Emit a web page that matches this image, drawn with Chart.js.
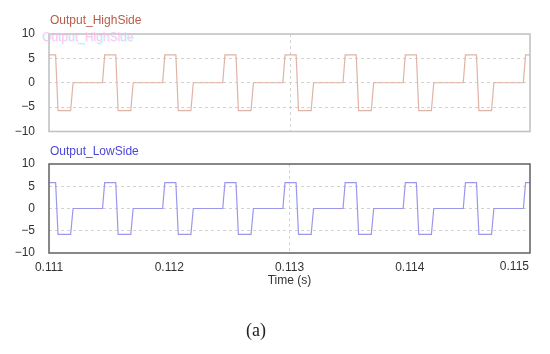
<!DOCTYPE html>
<html>
<head>
<meta charset="utf-8">
<script src="https://cdn.jsdelivr.net/npm/chart.js@4"></script>
<style>
  body { margin: 0; background: #fff; }
  #wrap { position: relative; width: 550px; height: 354px; overflow: hidden; }
  #wrap canvas { position: absolute; left: 0; }
  #cap { position: absolute; left: 226px; width: 60px; top: 320px; line-height: 20px;
         text-align: center; font-family: "Liberation Serif", serif; font-size: 18px; color: #222; }
</style>
</head>
<body>
<div id="wrap">
  <canvas id="topChart" width="550" height="140" style="top:0"></canvas>
  <canvas id="lowChart" width="550" height="214" style="top:140px"></canvas>
  <div id="cap">(a)</div>
</div>
<script>
// 時間 (s) : 各波形の折れ点
const times = [
  0.111000, 0.111055, 0.111075, 0.111180, 0.111200,
  0.111445, 0.111463, 0.111555, 0.111575, 0.111680, 0.111700,
  0.111945, 0.111963, 0.112055, 0.112075, 0.112180, 0.112200,
  0.112445, 0.112463, 0.112555, 0.112575, 0.112680, 0.112700,
  0.112945, 0.112963, 0.113055, 0.113075, 0.113180, 0.113200,
  0.113445, 0.113463, 0.113555, 0.113575, 0.113680, 0.113700,
  0.113945, 0.113963, 0.114055, 0.114075, 0.114180, 0.114200,
  0.114445, 0.114463, 0.114555, 0.114575, 0.114680, 0.114700,
  0.114945, 0.114963, 0.115000
];

// Output_HighSide の値
const highSide = [
  5.7, 5.7, -5.7, -5.7, 0,
  0, 5.7, 5.7, -5.7, -5.7, 0,
  0, 5.7, 5.7, -5.7, -5.7, 0,
  0, 5.7, 5.7, -5.7, -5.7, 0,
  0, 5.7, 5.7, -5.7, -5.7, 0,
  0, 5.7, 5.7, -5.7, -5.7, 0,
  0, 5.7, 5.7, -5.7, -5.7, 0,
  0, 5.7, 5.7, -5.7, -5.7, 0,
  0, 5.7, 5.7
];

// Output_LowSide の値
const lowSide = [
  5.8, 5.8, -5.8, -5.8, 0,
  0, 5.8, 5.8, -5.8, -5.8, 0,
  0, 5.8, 5.8, -5.8, -5.8, 0,
  0, 5.8, 5.8, -5.8, -5.8, 0,
  0, 5.8, 5.8, -5.8, -5.8, 0,
  0, 5.8, 5.8, -5.8, -5.8, 0,
  0, 5.8, 5.8, -5.8, -5.8, 0,
  0, 5.8, 5.8, -5.8, -5.8, 0,
  0, 5.8, 5.8
];

// 目盛り
const xTicks = [0.111, 0.112, 0.113, 0.114, 0.115];
const yTicks = [-10, -5, 0, 5, 10];
const xGridAt = 0.113; // 縦の破線はここだけ

const FONT = '"Liberation Sans", Arial, sans-serif';
const GRID = '#d2d2d2';

// 枠線とパネルタイトルを描くプラグイン
const panelPlugin = {
  id: 'panel',
  beforeDatasetsDraw(chart, args, opts) {
    // x軸を隠したパネルでは縦の破線をここで描く
    if (!opts.vGrid) return;
    const ctx = chart.ctx;
    const a = chart.chartArea;
    const px = chart.scales.x.getPixelForValue(xGridAt);
    ctx.save();
    ctx.strokeStyle = GRID;
    ctx.lineWidth = 1;
    ctx.setLineDash([3, 3]);
    ctx.beginPath();
    ctx.moveTo(Math.round(px) + 0.5, a.top);
    ctx.lineTo(Math.round(px) + 0.5, a.bottom);
    ctx.stroke();
    ctx.restore();
  },
  afterDraw(chart, args, opts) {
    const ctx = chart.ctx;
    const a = chart.chartArea;
    ctx.save();
    ctx.strokeStyle = opts.border;
    ctx.lineWidth = 1.6;
    ctx.strokeRect(a.left, a.top, a.right - a.left, a.bottom - a.top);
    ctx.font = '12px ' + FONT;
    ctx.textBaseline = 'middle';
    ctx.textAlign = 'left';
    if (opts.ghost) {
      // 元画像に残っている薄いゴースト文字
      ctx.fillStyle = 'rgba(150, 255, 255, 0.45)';
      ctx.fillText(opts.title, 43, 39);
      ctx.fillStyle = 'rgba(255, 175, 232, 0.7)';
      ctx.fillText(opts.title, 42, 38);
    }
    ctx.fillStyle = opts.titleColor;
    ctx.fillText(opts.title, 50, opts.titleY);
    // 右端のラベルは枠の内側に寄せる
    if (opts.lastLabel) {
      const xs = chart.scales.x;
      const v = xTicks[xTicks.length - 1];
      ctx.fillStyle = '#333';
      ctx.textAlign = 'right';
      ctx.fillText(v.toFixed(3), xs.getPixelForValue(v) - 1, opts.lastLabelY);
    }
    ctx.restore();
  }
};

function minusLabel(v) {
  return v < 0 ? '\u2212' + Math.abs(v) : String(v);
}

function makeChart(id, values, lineColor, panelOpts, showX, padding) {
  const ctx = document.getElementById(id).getContext('2d');
  return new Chart(ctx, {
    type: 'line',
    data: {
      datasets: [{
        data: times.map((t, i) => ({ x: t, y: values[i] })),
        borderColor: lineColor,
        borderWidth: 1.2,
        pointRadius: 0,
        tension: 0,
        fill: false
      }]
    },
    options: {
      responsive: false,
      animation: false,
      layout: { padding: padding },
      plugins: {
        legend: { display: false },
        tooltip: { enabled: false },
        panel: panelOpts
      },
      scales: {
        x: {
          type: 'linear',
          display: showX,
          min: xTicks[0],
          max: xTicks[xTicks.length - 1],
          afterBuildTicks: s => { s.ticks = xTicks.map(v => ({ value: v })); },
          afterFit: s => { s.height = showX ? 40 : 0; },
          border: { display: false, dash: [3, 3] },
          grid: {
            drawTicks: false,
            lineWidth: 1,
            color: c => (c.tick && Math.abs(c.tick.value - xGridAt) < 1e-9) ? GRID : 'rgba(0,0,0,0)'
          },
          ticks: {
            padding: 7,
            color: '#333',
            font: { family: FONT, size: 12 },
            maxRotation: 0,
            callback: v => (v === xTicks[xTicks.length - 1] ? '' : v.toFixed(3))
          },
          title: {
            display: true,
            text: 'Time (s)',
            color: '#333',
            font: { family: FONT, size: 12 },
            padding: { top: 0, bottom: 5 }
          }
        },
        y: {
          min: yTicks[0],
          max: yTicks[yTicks.length - 1],
          afterBuildTicks: s => { s.ticks = yTicks.map(v => ({ value: v })); },
          // ラベルのはみ出し分の余白は要らないので 0 にする
          afterFit: s => { s.width = 49; s.paddingTop = 0; s.paddingBottom = 0; },
          border: { display: false, dash: [3, 3] },
          grid: {
            drawTicks: false,
            color: c => (c.tick && Math.abs(c.tick.value) < 10) ? GRID : 'rgba(0,0,0,0)'
          },
          ticks: {
            padding: 14,
            color: '#333',
            font: { family: FONT, size: 12 },
            callback: v => minusLabel(v)
          }
        }
      }
    },
    plugins: [panelPlugin]
  });
}

// 上段: HighSide
makeChart('topChart', highSide, '#dfb4a6',
  { border: '#c2c2c2', title: 'Output_HighSide', titleColor: '#b95a46', titleY: 21, ghost: true, vGrid: true },
  false, { top: 34, right: 20, left: 0, bottom: 8.5 });

// 下段: LowSide
makeChart('lowChart', lowSide, '#9b98ec',
  { border: '#6a6a6a', title: 'Output_LowSide', titleColor: '#4b45dc', titleY: 11.5, lastLabel: true, lastLabelY: 127 },
  true, { top: 24, right: 20, left: 0, bottom: 61 });
</script>
</body>
</html>
